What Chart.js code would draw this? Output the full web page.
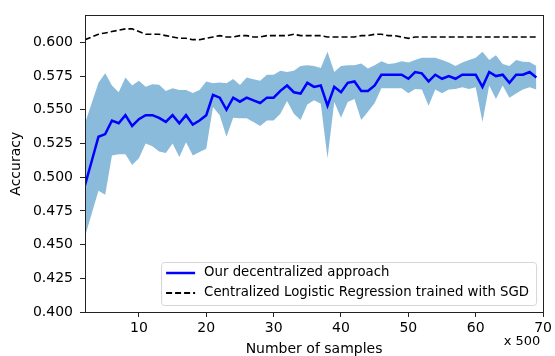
<!DOCTYPE html>
<html>
<head>
<meta charset="utf-8">
<script src="https://cdn.jsdelivr.net/npm/chart.js@4"></script>
<style>
  html, body { margin: 0; padding: 0; background: #fff; }
  #wrap { width: 555px; height: 356px; }
</style>
</head>
<body>
<div id="wrap"><canvas id="accChart" width="555" height="356"></canvas></div>
<script>
// values (x in units of 500 samples)
const samples = [2, 3, 4, 5, 6, 7, 8, 9, 10, 11, 12, 13, 14, 15, 16, 17, 18, 19, 20, 21,
  22, 23, 24, 25, 26, 27, 28, 29, 30, 31, 32, 33, 34, 35, 36, 37, 38, 39, 40, 41,
  42, 43, 44, 45, 46, 47, 48, 49, 50, 51, 52, 53, 54, 55, 56, 57, 58, 59, 60, 61,
  62, 63, 64, 65, 66, 67, 68, 69];

const decentralized = [0.494, 0.512, 0.530, 0.532, 0.542, 0.540, 0.546, 0.538, 0.543, 0.546,
  0.546, 0.544, 0.541, 0.546, 0.540, 0.546, 0.539, 0.542, 0.546, 0.561,
  0.559, 0.550, 0.559, 0.556, 0.559, 0.557, 0.555, 0.559, 0.559, 0.564,
  0.568, 0.563, 0.562, 0.570, 0.567, 0.568, 0.553, 0.567, 0.563, 0.570,
  0.571, 0.564, 0.564, 0.568, 0.576, 0.576, 0.576, 0.576, 0.573, 0.578,
  0.577, 0.571, 0.576, 0.573, 0.575, 0.573, 0.576, 0.576, 0.576, 0.567,
  0.578, 0.575, 0.576, 0.570, 0.576, 0.576, 0.578, 0.574];

const bandUpper = [0.540, 0.555, 0.570, 0.577, 0.568, 0.563, 0.574, 0.568, 0.5715, 0.567,
  0.569, 0.5686, 0.564, 0.566, 0.5647, 0.5647, 0.5625, 0.5647, 0.571, 0.5696,
  0.5703, 0.5696, 0.5728, 0.5684, 0.574, 0.5727, 0.5715, 0.576, 0.576, 0.579,
  0.578, 0.579, 0.5825, 0.583, 0.5825, 0.581, 0.593, 0.578, 0.5825, 0.583,
  0.583, 0.5844, 0.5806, 0.583, 0.586, 0.584, 0.5845, 0.586, 0.585, 0.587,
  0.5886, 0.5886, 0.5886, 0.587, 0.585, 0.5825, 0.585, 0.587, 0.5886, 0.593,
  0.587, 0.5905, 0.584, 0.5825, 0.587, 0.5856, 0.5855, 0.5825];

const bandLower = [0.456, 0.473, 0.490, 0.487, 0.516, 0.517, 0.517, 0.509, 0.514, 0.525,
  0.523, 0.519, 0.518, 0.525, 0.515, 0.526, 0.516, 0.5186, 0.521, 0.552,
  0.546, 0.530, 0.544, 0.5437, 0.5437, 0.541, 0.538, 0.542, 0.542, 0.547,
  0.5565, 0.547, 0.5424, 0.554, 0.557, 0.5545, 0.514, 0.5557, 0.544, 0.5557,
  0.558, 0.5424, 0.5485, 0.555, 0.566, 0.566, 0.566, 0.566, 0.5623, 0.5655,
  0.565, 0.553, 0.565, 0.5623, 0.565, 0.5655, 0.5667, 0.5655, 0.5667, 0.541,
  0.568, 0.558, 0.568, 0.559, 0.562, 0.565, 0.5667, 0.565];

const centralized = [0.602, 0.604, 0.606, 0.607, 0.608, 0.609, 0.610, 0.610, 0.608, 0.606,
  0.606, 0.606, 0.605, 0.604, 0.603, 0.603, 0.602, 0.602, 0.603, 0.604,
  0.605, 0.604, 0.604, 0.605, 0.605, 0.604, 0.604, 0.605, 0.605, 0.605,
  0.605, 0.606, 0.605, 0.605, 0.605, 0.605, 0.604, 0.604, 0.604, 0.604,
  0.604, 0.605, 0.605, 0.606, 0.606, 0.605, 0.605, 0.604, 0.603, 0.604,
  0.604, 0.604, 0.604, 0.604, 0.604, 0.604, 0.604, 0.604, 0.604, 0.604,
  0.604, 0.604, 0.604, 0.604, 0.604, 0.604, 0.604, 0.604];

const xTicks = [10, 20, 30, 40, 50, 60, 70];
const yTicks = [0.400, 0.425, 0.450, 0.475, 0.500, 0.525, 0.550, 0.575, 0.600];

const legendLabels = ['Our decentralized approach', 'Centralized Logistic Regression trained with SGD'];

function pts(ys) {
  return samples.map((x, i) => ({ x: x, y: ys[i] }));
}

Chart.defaults.font.family = "'DejaVu Sans', sans-serif";
Chart.defaults.color = '#000';

// box around the plot, the legend inside it and the "x 500" note
const framePlugin = {
  id: 'frame',
  afterDatasetsDraw(chart) {
    const { ctx, chartArea: a } = chart;
    ctx.save();
    ctx.strokeStyle = '#222';
    ctx.lineWidth = 1;
    ctx.strokeRect(Math.round(a.left) + 0.5, Math.round(a.top) + 0.5,
      Math.round(a.right - a.left), Math.round(a.bottom - a.top));

    // legend box
    const w = 375, h = 43;
    const bx = a.right - 7 - w, by = a.bottom - 7 - h;
    ctx.beginPath();
    ctx.roundRect(bx + 0.5, by + 0.5, w, h, 3);
    ctx.fillStyle = 'rgba(255,255,255,0.85)';
    ctx.fill();
    ctx.strokeStyle = '#d5d5d5';
    ctx.stroke();

    ctx.font = "13.3px 'DejaVu Sans'";
    ctx.textBaseline = 'middle';
    ctx.textAlign = 'left';
    ctx.fillStyle = '#000';
    const rows = [by + 11, by + 31];
    // solid blue handle
    ctx.strokeStyle = '#0000ff';
    ctx.lineWidth = 2.5;
    ctx.beginPath();
    ctx.moveTo(bx + 5, rows[0]); ctx.lineTo(bx + 34, rows[0]);
    ctx.stroke();
    // dashed black handle
    ctx.strokeStyle = '#000';
    ctx.lineWidth = 1.8;
    ctx.setLineDash([6, 3]);
    ctx.beginPath();
    ctx.moveTo(bx + 5, rows[1]); ctx.lineTo(bx + 34, rows[1]);
    ctx.stroke();
    ctx.setLineDash([]);
    ctx.fillText(legendLabels[0], bx + 43, rows[0]);
    ctx.fillText(legendLabels[1], bx + 43, rows[1]);

    ctx.font = "13px 'DejaVu Sans'";
    ctx.textAlign = 'center';
    ctx.fillText('x 500', 522, 342);
    ctx.restore();
  }
};

const ctx = document.getElementById('accChart').getContext('2d');
const accChart = new Chart(ctx, {
  type: 'line',
  data: {
    datasets: [
      {
        label: 'upper',
        data: pts(bandUpper),
        borderWidth: 0,
        pointRadius: 0,
        backgroundColor: 'rgb(139, 187, 218)',
        fill: '+1',
        order: 3
      },
      {
        label: 'lower',
        data: pts(bandLower),
        borderWidth: 0,
        pointRadius: 0,
        fill: false,
        order: 2
      },
      {
        label: legendLabels[0],
        data: pts(decentralized),
        borderColor: '#0000ff',
        borderWidth: 2.5,
        pointRadius: 0,
        fill: false,
        order: 1
      },
      {
        label: legendLabels[1],
        data: pts(centralized),
        borderColor: '#000',
        borderWidth: 1.6,
        borderDash: [6, 3],
        pointRadius: 0,
        fill: false,
        order: 0
      }
    ]
  },
  options: {
    responsive: false,
    animation: false,
    layout: { padding: { left: 0, right: 10, top: 10, bottom: 0 } },
    plugins: {
      legend: { display: false },
      tooltip: { enabled: false },
      filler: { drawTime: 'beforeDatasetsDraw' }
    },
    elements: { line: { tension: 0 } },
    scales: {
      x: {
        type: 'linear',
        min: 2,
        max: 70,
        border: { display: false },
        grid: { drawOnChartArea: false, drawTicks: true, tickLength: 5, color: '#222' },
        ticks: { font: { size: 14 }, padding: 3, maxRotation: 0 },
        afterBuildTicks: (s) => { s.ticks = xTicks.map(v => ({ value: v })); },
        afterFit: (s) => { s.height = 44; },
        title: {
          display: true,
          text: 'Number of samples',
          font: { size: 14, lineHeight: 1 },
          padding: 0
        }
      },
      y: {
        min: 0.4,
        max: 0.62,
        border: { display: false },
        grid: { drawOnChartArea: false, drawTicks: true, tickLength: 5, color: '#222' },
        ticks: {
          font: { size: 14 },
          padding: 7,
          callback: (v) => Number(v).toFixed(3)
        },
        afterBuildTicks: (s) => { s.ticks = yTicks.map(v => ({ value: v })); },
        afterFit: (s) => { s.width = 85; },
        title: {
          display: true,
          text: 'Accuracy',
          font: { size: 14 },
          padding: { top: 8, bottom: 0 }
        }
      }
    }
  },
  plugins: [framePlugin]
});
</script>
</body>
</html>
